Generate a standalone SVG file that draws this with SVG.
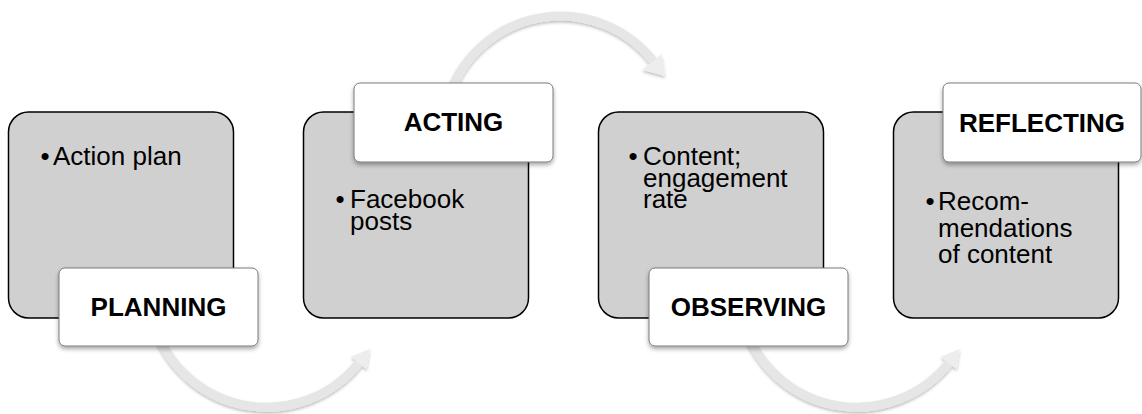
<svg xmlns="http://www.w3.org/2000/svg" width="1142" height="414" viewBox="0 0 1142 414">
  <defs>
    <style>
      .box { fill: #d0d0d0; stroke: #000; stroke-width: 1.5; }
      .tag { fill: #fff; stroke: #7a7a7a; stroke-width: 1; filter: url(#tagShadow); }
      .body { font-family: "Liberation Sans", Arial, sans-serif; font-size: 26px; fill: #000; }
      .title { font-family: "Liberation Sans", Arial, sans-serif; font-size: 26px; font-weight: bold; fill: #000; text-anchor: middle; }
      .arc { fill: none; stroke: #e6e6e6; stroke-width: 9; }
      .head { fill: #ededed; }
    </style>
    <filter id="tagShadow" x="-10%" y="-10%" width="125%" height="135%">
      <feDropShadow dx="0" dy="2.5" stdDeviation="2" flood-color="#000" flood-opacity="0.35"/>
    </filter>
    <filter id="arcShadow" x="-10%" y="-10%" width="125%" height="135%">
      <feDropShadow dx="0" dy="2" stdDeviation="1.5" flood-color="#000" flood-opacity="0.25"/>
    </filter>
  </defs>

  <!-- curved arrows between the stages -->
  <g id="connectors" filter="url(#arcShadow)">
    <!-- planning to acting (below) -->
    <g id="arrow-plan-act">
      <path class="arc" d="M 156 330 A 118 118 0 0 0 358.7 363"/>
      <polygon class="head" points="369.8,348.9 366.6,369.2 350.8,356.8"/>
    </g>
    <!-- acting to observing (above) -->
    <g id="arrow-act-obs">
      <path class="arc" d="M 451 90 A 118 118 0 0 1 654 62"/>
      <polygon class="head" points="664.9,76.1 642.1,69.8 661.8,54.2"/>
    </g>
    <!-- observing to reflecting (below) -->
    <g id="arrow-obs-ref">
      <path class="arc" d="M 746 330 A 118 118 0 0 0 948.7 363"/>
      <polygon class="head" points="959.8,348.9 956.6,369.2 940.8,356.8"/>
    </g>
  </g>

  <g id="planning">
    <rect class="box" x="8.5" y="112" width="225" height="206" rx="20"/>
    <text class="body" x="40.5" y="165">•</text>
    <text class="body" x="53" y="165">Action plan</text>
    <rect class="tag" x="59" y="268" width="199" height="78" rx="6"/>
    <text class="title" x="158.5" y="316">PLANNING</text>
  </g>

  <g id="acting">
    <rect class="box" x="303.5" y="112" width="225" height="206" rx="20"/>
    <text class="body" x="335.5" y="208">•</text>
    <text class="body" x="350" y="208">Facebook</text>
    <text class="body" x="350" y="230">posts</text>
    <rect class="tag" x="354" y="83" width="199" height="79" rx="6"/>
    <text class="title" x="453.5" y="131">ACTING</text>
  </g>

  <g id="observing">
    <rect class="box" x="598.5" y="112" width="225" height="206" rx="20"/>
    <text class="body" x="628.5" y="165">•</text>
    <text class="body" x="643" y="165">Content;</text>
    <text class="body" x="643" y="187">engagement</text>
    <text class="body" x="643" y="208">rate</text>
    <rect class="tag" x="649" y="268" width="199" height="78" rx="6"/>
    <text class="title" x="748.5" y="316">OBSERVING</text>
  </g>

  <g id="reflecting">
    <rect class="box" x="893.5" y="112" width="225" height="206" rx="20"/>
    <text class="body" x="925.5" y="210">•</text>
    <text class="body" x="938" y="210">Recom-</text>
    <text class="body" x="938" y="237">mendations</text>
    <text class="body" x="938" y="263">of content</text>
    <rect class="tag" x="943" y="83" width="198" height="79" rx="6"/>
    <text class="title" x="1042" y="132">REFLECTING</text>
  </g>
</svg>
